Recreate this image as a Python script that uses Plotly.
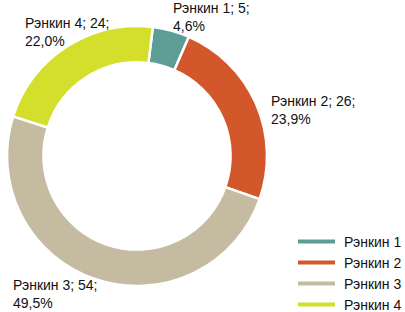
import plotly.graph_objects as go

categories = ["Рэнкин 1", "Рэнкин 2", "Рэнкин 3", "Рэнкин 4"]
values = [5, 26, 54, 24]
colors = ["#5c9d96", "#d2582b", "#c4bba1", "#d4df2b"]

W, H = 405, 312
FONT = "Liberation Sans, Arial, sans-serif"

total = sum(values)
label_texts = []
for c, v in zip(categories, values):
    pct = f"{100 * v / total:.1f}".replace(".", ",")
    label_texts.append(f"{c}; {v};<br>{pct}%")

# label block positions (left x, vertical centre y) in pixels
label_pos = [(171, 16.5), (269, 110), (11, 294), (23, 32)]

fig = go.Figure()
fig.add_trace(go.Pie(
    labels=categories,
    values=values,
    sort=False,
    direction="clockwise",
    rotation=7,
    hole=0.72,
    marker=dict(colors=colors, line=dict(color="white", width=2.5)),
    textinfo="none",
    showlegend=False,
    domain=dict(x=[7 / W, 267 / W], y=[26 / H, 286 / H]),
))

annotations = []
for txt, (px, py) in zip(label_texts, label_pos):
    annotations.append(dict(
        x=px / W, y=1 - py / H, xref="paper", yref="paper",
        xanchor="left", yanchor="middle", align="left",
        text=txt, showarrow=False,
        font=dict(family=FONT, size=14, color="#111111"),
    ))

shapes = []
leg_y0, leg_dy = 241.5, 21
for i, (c, col) in enumerate(zip(categories, colors)):
    y = leg_y0 + i * leg_dy
    shapes.append(dict(
        type="line", xref="paper", yref="paper",
        x0=298 / W, x1=335 / W, y0=1 - y / H, y1=1 - y / H,
        line=dict(color=col, width=4),
    ))
    annotations.append(dict(
        x=342 / W, y=1 - y / H, xref="paper", yref="paper",
        xanchor="left", yanchor="middle", align="left",
        text=c, showarrow=False,
        font=dict(family=FONT, size=14, color="#111111"),
    ))

fig.update_layout(
    width=W, height=H,
    margin=dict(l=0, r=0, t=0, b=0),
    paper_bgcolor="white",
    plot_bgcolor="white",
    annotations=annotations,
    shapes=shapes,
    showlegend=False,
)

fig.write_html(
    "out.html",
    config={"displayModeBar": False},
    post_script="document.body.style.margin='0';document.body.style.overflow='hidden';",
)
